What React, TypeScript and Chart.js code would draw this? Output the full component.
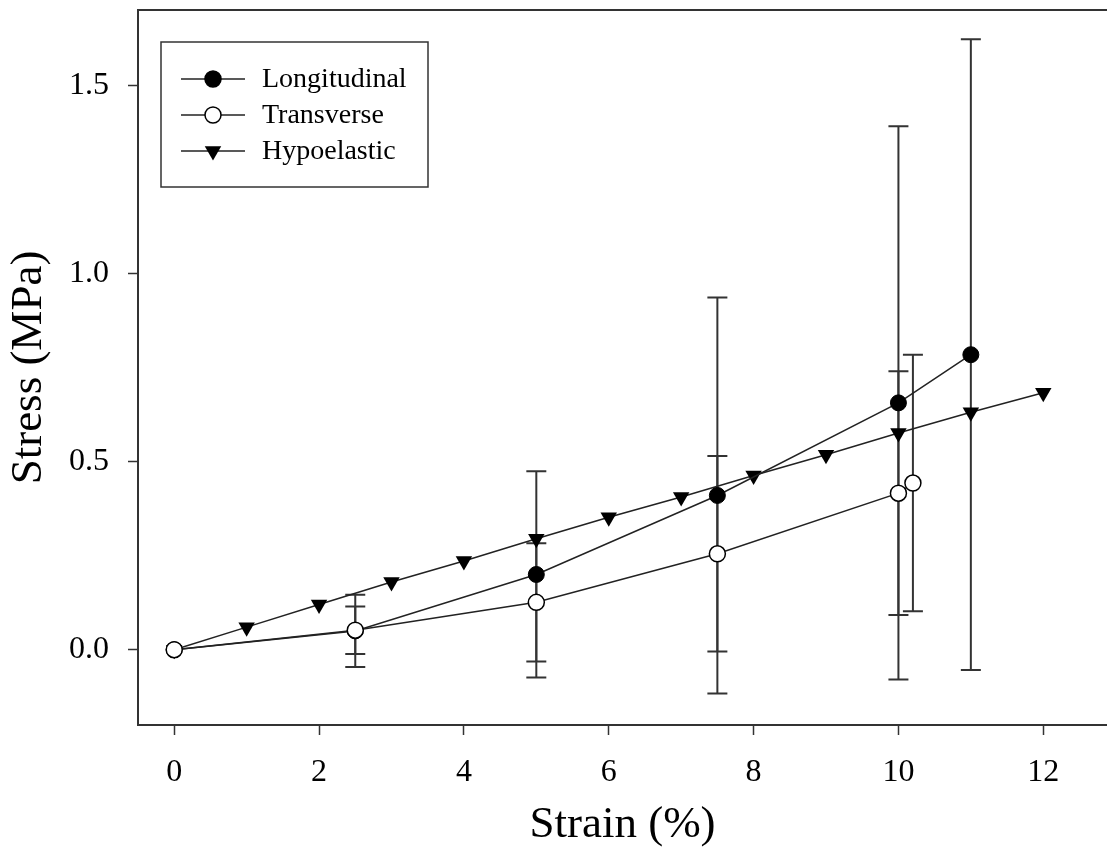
import React, { useEffect, useRef } from 'react';
import { Chart, registerables } from 'chart.js';

Chart.register(...registerables);

// ---- data ----
const strainLong = [0, 2.5, 5, 7.5, 10, 11];
const stressLong = [0, 0.05, 0.2, 0.41, 0.656, 0.784];
const errLong = [0, 0.096, 0.274, 0.526, 0.735, 0.838];

const strainTrans = [0, 2.5, 5, 7.5, 10, 10.2];
const stressTrans = [0, 0.052, 0.126, 0.255, 0.416, 0.443];
const errTrans = [0, 0.063, 0.157, 0.26, 0.324, 0.341];

const strainHypo = [0, 1, 2, 3, 4, 5, 6, 7, 8, 9, 10, 11, 12];
const stressHypo = [0, 0.06, 0.12, 0.18, 0.236, 0.295, 0.352, 0.406, 0.463, 0.518, 0.576, 0.631, 0.683];

const xTicks = [0, 2, 4, 6, 8, 10, 12];
const yTicks = [0, 0.5, 1.0, 1.5];
const seriesNames = ['Longitudinal', 'Transverse', 'Hypoelastic'];
const xTitle = 'Strain (%)';
const yTitle = 'Stress (MPa)';

const FONT = '"Liberation Serif", "Times New Roman", serif';
const INK = '#222';

const toPoints = (xs: number[], ys: number[]) => xs.map((x, i) => ({ x, y: ys[i] }));

const errorBarPlugin = {
  id: 'errorBars',
  beforeDatasetsDraw(chart: any) {
    const ctx = chart.ctx;
    const xs = chart.scales.x;
    const ys = chart.scales.y;
    ctx.save();
    ctx.strokeStyle = '#333';
    ctx.lineWidth = 2;
    chart.data.datasets.forEach((ds: any) => {
      if (!ds.errors) return;
      ds.data.forEach((p: any, i: number) => {
        const e = ds.errors[i];
        if (!e) return;
        const px = xs.getPixelForValue(p.x);
        const top = ys.getPixelForValue(p.y + e);
        const bot = ys.getPixelForValue(p.y - e);
        const cap = 10;
        ctx.beginPath();
        ctx.moveTo(px, top);
        ctx.lineTo(px, bot);
        ctx.moveTo(px - cap, top);
        ctx.lineTo(px + cap, top);
        ctx.moveTo(px - cap, bot);
        ctx.lineTo(px + cap, bot);
        ctx.stroke();
      });
    });
    ctx.restore();
  },
};

function drawMarker(ctx: CanvasRenderingContext2D, kind: string, x: number, y: number) {
  ctx.beginPath();
  if (kind === 'triangle') {
    const r = 9.5;
    for (let k = 0; k < 3; k++) {
      const a = Math.PI + (k * 2 * Math.PI) / 3;
      const px = x + Math.sin(a) * r;
      const py = y - Math.cos(a) * r;
      if (k === 0) ctx.moveTo(px, py);
      else ctx.lineTo(px, py);
    }
    ctx.closePath();
    ctx.fillStyle = '#000';
    ctx.fill();
  } else {
    ctx.arc(x, y, 8, 0, Math.PI * 2);
    ctx.fillStyle = kind === 'open' ? '#fff' : '#000';
    ctx.fill();
    ctx.lineWidth = 1.5;
    ctx.strokeStyle = '#000';
    ctx.stroke();
  }
}

const frameLegendPlugin = {
  id: 'frameLegend',
  afterDraw(chart: any) {
    const ctx = chart.ctx;
    const a = chart.chartArea;
    ctx.save();
    // top frame line
    ctx.strokeStyle = '#333';
    ctx.lineWidth = 2;
    ctx.beginPath();
    ctx.moveTo(a.left - 1, a.top);
    ctx.lineTo(a.right, a.top);
    ctx.stroke();

    // legend box
    const bx = 161, by = 42, bw = 267, bh = 145;
    ctx.lineWidth = 1.5;
    ctx.strokeStyle = '#333';
    ctx.strokeRect(bx, by, bw, bh);
    const kinds = ['filled', 'open', 'triangle'];
    ctx.font = `28px ${FONT}`;
    ctx.textBaseline = 'middle';
    ctx.textAlign = 'left';
    seriesNames.forEach((name, i) => {
      const cy = 79 + i * 36;
      ctx.strokeStyle = INK;
      ctx.lineWidth = 1.5;
      ctx.beginPath();
      ctx.moveTo(181, cy);
      ctx.lineTo(245, cy);
      ctx.stroke();
      drawMarker(ctx, kinds[i], 213, cy);
      ctx.fillStyle = '#000';
      ctx.fillText(name, 262, cy + 1);
    });
    ctx.restore();
  },
};

export default function App() {
  const ref = useRef<HTMLCanvasElement | null>(null);

  useEffect(() => {
    if (!ref.current) return;
    const chart = new Chart(ref.current, {
      type: 'scatter',
      data: {
        datasets: [
          {
            label: seriesNames[1],
            data: toPoints(strainTrans, stressTrans),
            errors: errTrans,
            showLine: true,
            borderColor: INK,
            borderWidth: 1.5,
            pointStyle: 'circle',
            pointRadius: 8,
            pointBackgroundColor: '#fff',
            pointBorderColor: '#000',
            pointBorderWidth: 1.5,
            order: 0,
          } as any,
          {
            label: seriesNames[0],
            data: toPoints(strainLong, stressLong),
            errors: errLong,
            showLine: true,
            borderColor: INK,
            borderWidth: 1.5,
            pointStyle: 'circle',
            pointRadius: 8,
            pointBackgroundColor: '#000',
            pointBorderColor: '#000',
            pointBorderWidth: 1,
            order: 1,
          } as any,
          {
            label: seriesNames[2],
            data: toPoints(strainHypo, stressHypo),
            showLine: true,
            borderColor: INK,
            borderWidth: 1.5,
            pointStyle: 'triangle',
            rotation: 180,
            pointRadius: 9.5,
            pointBackgroundColor: '#000',
            pointBorderColor: '#000',
            pointBorderWidth: 0,
            order: 2,
          } as any,
        ],
      },
      options: {
        animation: false,
        responsive: false,
        maintainAspectRatio: false,
        layout: { autoPadding: false, padding: { top: 10, right: 0, left: 0, bottom: 0 } },
        plugins: {
          legend: { display: false },
          tooltip: { enabled: false },
        },
        scales: {
          x: {
            type: 'linear',
            min: -0.5,
            max: 12.88,
            afterBuildTicks: (s: any) => {
              s.ticks = xTicks.map((v) => ({ value: v }));
            },
            afterFit: (s: any) => {
              s.height = 125;
              s.paddingLeft = 0;
              s.paddingRight = 0;
            },
            grid: {
              display: true,
              drawOnChartArea: false,
              drawTicks: true,
              tickLength: 10,
              tickWidth: 1.5,
              tickColor: '#333',
            },
            border: { display: true, color: '#333', width: 2 },
            ticks: {
              color: '#000',
              font: { family: FONT, size: 32 },
              padding: 18,
              maxRotation: 0,
              callback: (v: any) => String(v),
            },
            title: {
              display: true,
              text: xTitle,
              color: '#000',
              font: { family: FONT, size: 45 },
              padding: { top: 0, bottom: -2 },
            },
          },
          y: {
            type: 'linear',
            min: -0.2,
            max: 1.7,
            afterBuildTicks: (s: any) => {
              s.ticks = yTicks.map((v) => ({ value: v }));
            },
            afterFit: (s: any) => {
              s.width = 138;
              s.paddingTop = 0;
              s.paddingBottom = 0;
            },
            grid: {
              display: true,
              drawOnChartArea: false,
              drawTicks: true,
              tickLength: 10,
              tickWidth: 1.5,
              tickColor: '#333',
            },
            border: { display: true, color: '#333', width: 2 },
            ticks: {
              color: '#000',
              font: { family: FONT, size: 32 },
              padding: 19,
              callback: (v: any) => Number(v).toFixed(1),
            },
            title: {
              display: true,
              text: yTitle,
              color: '#000',
              font: { family: FONT, size: 45 },
              padding: { top: 2, bottom: 0 },
            },
          },
        },
      } as any,
      plugins: [errorBarPlugin, frameLegendPlugin],
    });
    return () => chart.destroy();
  }, []);

  return (
    <div style={{ position: 'absolute', left: 0, top: 0, width: 1107, height: 850, background: '#fff' }}>
      <canvas ref={ref} width={1107} height={850} />
    </div>
  );
}
